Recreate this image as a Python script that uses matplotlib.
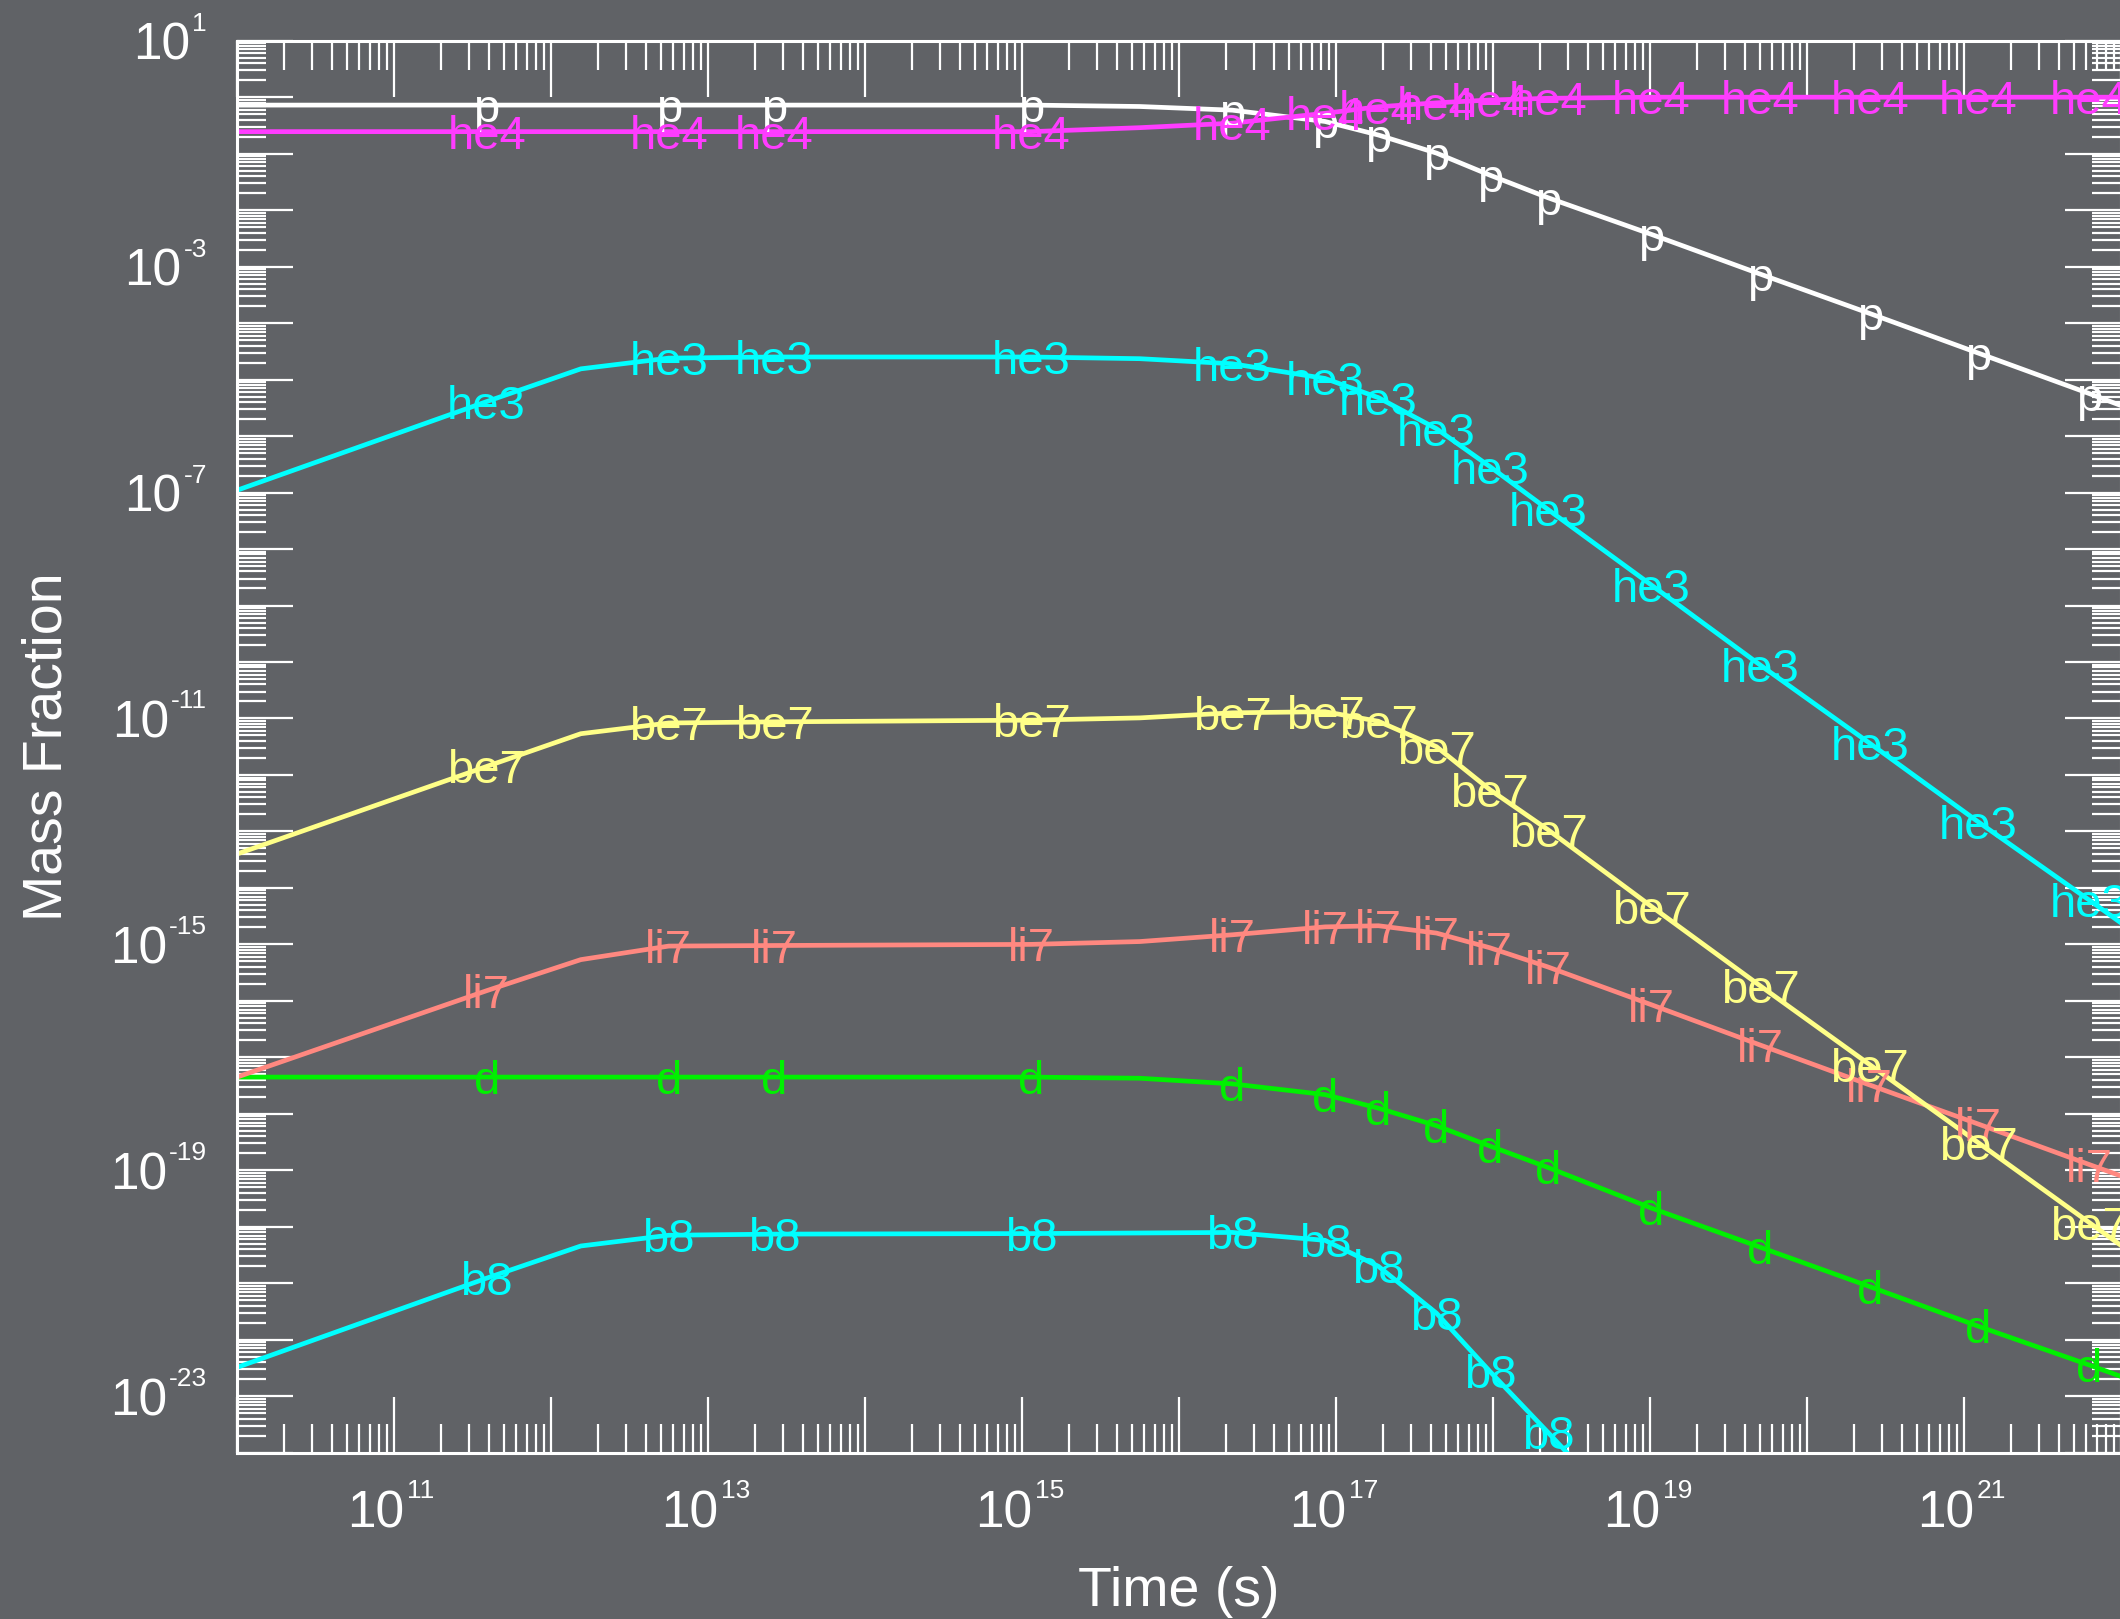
import matplotlib
matplotlib.use("Agg")
import matplotlib.pyplot as plt
import numpy as np
from matplotlib.ticker import FixedLocator, NullFormatter

plt.rcParams['font.family'] = ['Liberation Sans', 'DejaVu Sans']

BG = '#606266'

# log10 of time (s) at each sample of the network run
log_time = [10.0, 11.59, 12.19, 12.75, 13.42, 15.06, 15.75, 16.34, 16.93, 17.27,
            17.64, 17.98, 18.35, 19.01, 19.70, 20.40, 21.09, 21.80, 22.0]
# samples that carry a species label
labelled = [1, 3, 4, 5, 7, 8, 9, 10, 11, 12, 13, 14, 15, 16, 17]

# log10 mass fraction of each species at those samples
p = [-0.14, -0.14, -0.14, -0.14, -0.14, -0.14, -0.165, -0.23, -0.43, -0.67,
     -0.99, -1.38, -1.78, -2.43, -3.13, -3.83, -4.53, -5.25, -5.46]
he4 = [-0.61, -0.61, -0.61, -0.61, -0.61, -0.61, -0.54, -0.46, -0.285, -0.17,
       -0.10, -0.05, -0.02, 0.0, 0.0, 0.0, 0.0, 0.0, 0.0]
he3 = [-6.96, -5.39, -4.81, -4.62, -4.60, -4.60, -4.63, -4.72, -4.98, -5.32,
       -5.87, -6.54, -7.30, -8.64, -10.05, -11.44, -12.83, -14.22, -14.62]
d = [-17.35, -17.35, -17.35, -17.35, -17.35, -17.35, -17.37, -17.47, -17.66, -17.90,
     -18.21, -18.57, -18.95, -19.67, -20.36, -21.06, -21.76, -22.45, -22.65]
li7 = [-17.35, -15.82, -15.27, -15.03, -15.02, -15.00, -14.95, -14.83, -14.69, -14.67,
       -14.80, -15.06, -15.40, -16.07, -16.78, -17.49, -18.18, -18.90, -19.10]
be7 = [-13.40, -11.85, -11.27, -11.08, -11.06, -11.03, -10.99, -10.90, -10.88, -11.05,
       -11.50, -12.26, -12.97, -14.33, -15.73, -17.13, -18.51, -19.93, -20.33]
b8 = [-22.49, -20.91, -20.34, -20.15, -20.13, -20.12, -20.11, -20.10, -20.24, -20.70,
      -21.53, -22.56, -23.64, -25.6, np.nan, np.nan, np.nan, np.nan, np.nan]

species = [
    ("p", p, '#ffffff'),
    ("he4", he4, '#ff3cff'),
    ("he3", he3, '#00ffff'),
    ("d", d, '#00f000'),
    ("li7", li7, '#ff8880'),
    ("be7", be7, '#ffff88'),
    ("b8", b8, '#00ffff'),
]

t = 10.0 ** np.array(log_time)

fig = plt.figure(figsize=(21.2, 16.19), dpi=100, facecolor=BG)
ax = fig.add_axes([237 / 2120, 1 - 1452.7 / 1619, 1884 / 2120, 1412 / 1619])
ax.set_facecolor(BG)
ax.set_xscale('log')
ax.set_yscale('log')
ax.set_xlim(1e10, 1e22)
ax.set_ylim(1e-24, 1e1)

for name, vals, color in species:
    y = 10.0 ** np.array(vals, dtype=float)
    ax.plot(t, y, color=color, lw=3.4, solid_joinstyle='round')
    for i in labelled:
        if np.isfinite(y[i]):
            ax.text(t[i], y[i], name, color=color, fontsize=34,
                    ha='center', va='center_baseline', clip_on=True)

# ruler style ticks: every decade major, 2..9 minor, all pointing in
xdec = np.arange(10, 23)
ydec = np.arange(-24, 2)
ax.xaxis.set_major_locator(FixedLocator(10.0 ** xdec))
ax.xaxis.set_minor_locator(FixedLocator([k * 10.0 ** e for e in xdec[:-1] for k in range(2, 10)]))
ax.yaxis.set_major_locator(FixedLocator(10.0 ** ydec))
ax.yaxis.set_minor_locator(FixedLocator([k * 10.0 ** e for e in ydec[:-1] for k in range(2, 10)]))
for axis in (ax.xaxis, ax.yaxis):
    axis.set_major_formatter(NullFormatter())
    axis.set_minor_formatter(NullFormatter())
ax.tick_params(which='both', direction='in', top=True, right=True,
               color='white', width=1.6)
ax.tick_params(which='major', length=40)
ax.tick_params(which='minor', length=21)
for s in ax.spines.values():
    s.set_color('white')
    s.set_linewidth(2.2)

# tick labels as 10 + small exponent
for e in range(11, 22, 2):
    ax.annotate("10", xy=(10.0 ** e, 0), xycoords=('data', 'axes fraction'),
                xytext=(10, -75), textcoords='offset pixels', ha='right', va='baseline',
                fontsize=37, color='white', annotation_clip=False)
    ax.annotate(str(e), xy=(10.0 ** e, 0), xycoords=('data', 'axes fraction'),
                xytext=(13, -45), textcoords='offset pixels', ha='left', va='baseline',
                fontsize=19, color='white', annotation_clip=False)

for e in range(1, -24, -4):
    ex = ax.annotate(str(e), xy=(0, 10.0 ** e), xycoords=('axes fraction', 'data'),
                     xytext=(-30, 10), textcoords='offset pixels', ha='right', va='baseline',
                     fontsize=19, color='white', annotation_clip=False)
    ax.annotate("10", xy=(0, 10.0 ** e), xycoords=(ex, 'data'),
                xytext=(-2, -19), textcoords='offset pixels', ha='right', va='baseline',
                fontsize=37, color='white', annotation_clip=False)

ax.set_xlabel("Time (s)", fontsize=40, color='white', va='baseline')
ax.xaxis.set_label_coords(0.5, -0.1086)
ax.set_ylabel("Mass Fraction", fontsize=40, color='white', va='center_baseline')
ax.yaxis.set_label_coords(-0.104, 0.5)

fig.savefig("out.png", dpi=100, facecolor=BG)
